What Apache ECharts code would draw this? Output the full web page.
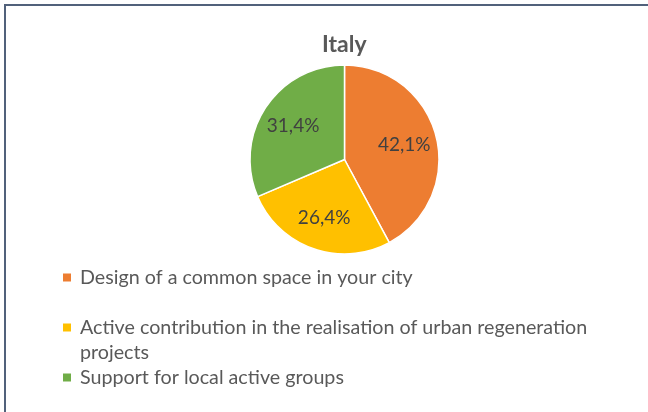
<!DOCTYPE html>
<html>
<head>
<meta charset="utf-8">
<script src="https://cdn.jsdelivr.net/npm/echarts@6/dist/echarts.min.js"></script>
<style>
  html, body { margin: 0; padding: 0; background: #fff; }
  #frame {
    position: absolute; left: 4px; top: 4px; width: 700px; height: 500px;
    border-left: 2px solid #51617b; border-top: 2px solid #51617b;
    box-sizing: border-box;
  }
  #chart { position: absolute; left: 0; top: 0; width: 648px; height: 412px; }
</style>
</head>
<body>
<div id="frame"></div>
<div id="chart"></div>
<script>
// Share of answers per type of engagement (Italy)
const titleText = 'Italy';
const categories = [
  'Design of a common space in your city',
  'Active contribution in the realisation of urban regeneration projects',
  'Support for local active groups'
];
const shares = [42.1, 26.4, 31.4];
const colors = ['#ED7D31', '#FFC000', '#70AD47'];

const FONT = 'Lato, "Liberation Sans", sans-serif';
const LINE = 25;
const center = [344.5, 159.5];
const R = 94.5;

const pieData = categories.map((name, i) => ({ name, value: shares[i] }));
const fmt = v => v.toFixed(1).replace('.', ',') + '%';

const chart = echarts.init(document.getElementById('chart'), null, { renderer: 'canvas' });
chart.setOption({
  animation: false,
  color: colors,
  title: {
    text: titleText,
    left: 322, top: 33,
    padding: 0,
    textStyle: { fontFamily: FONT, fontWeight: 'bold', fontSize: 23, color: '#595959' }
  },
  legend: {
    orient: 'vertical',
    left: 63, top: 277.5 - LINE / 2,
    padding: 0,
    itemGap: 0,
    itemWidth: 8, itemHeight: 8,
    itemStyle: { borderWidth: 0 },
    icon: 'rect',
    // the long entry wraps onto two lines; a leading empty line keeps
    // its marker level with the first line of text
    formatter: name => name === categories[1] ? '\n' + name : name,
    textStyle: {
      fontFamily: FONT, fontSize: 19.7, color: '#595959',
      lineHeight: LINE, width: 540, overflow: 'break',
      padding: [0, 0, 0, 4]
    }
  },
  series: [
    {
      type: 'pie',
      center, radius: [0, R],
      startAngle: 90, clockwise: true,
      silent: true,
      itemStyle: { borderColor: '#ffffff', borderWidth: 1.5 },
      label: { show: false }, labelLine: { show: false },
      data: pieData
    },
    {
      // transparent ring carrying the value labels a little outward
      type: 'pie',
      center, radius: [R * 0.24, R],
      startAngle: 90, clockwise: true,
      silent: true,
      itemStyle: { color: 'rgba(0,0,0,0)', borderWidth: 0 },
      label: {
        show: true, position: 'inside',
        formatter: p => fmt(p.value),
        fontFamily: FONT, fontSize: 19, color: '#404040'
      },
      labelLine: { show: false },
      data: pieData
    }
  ]
});
</script>
</body>
</html>
